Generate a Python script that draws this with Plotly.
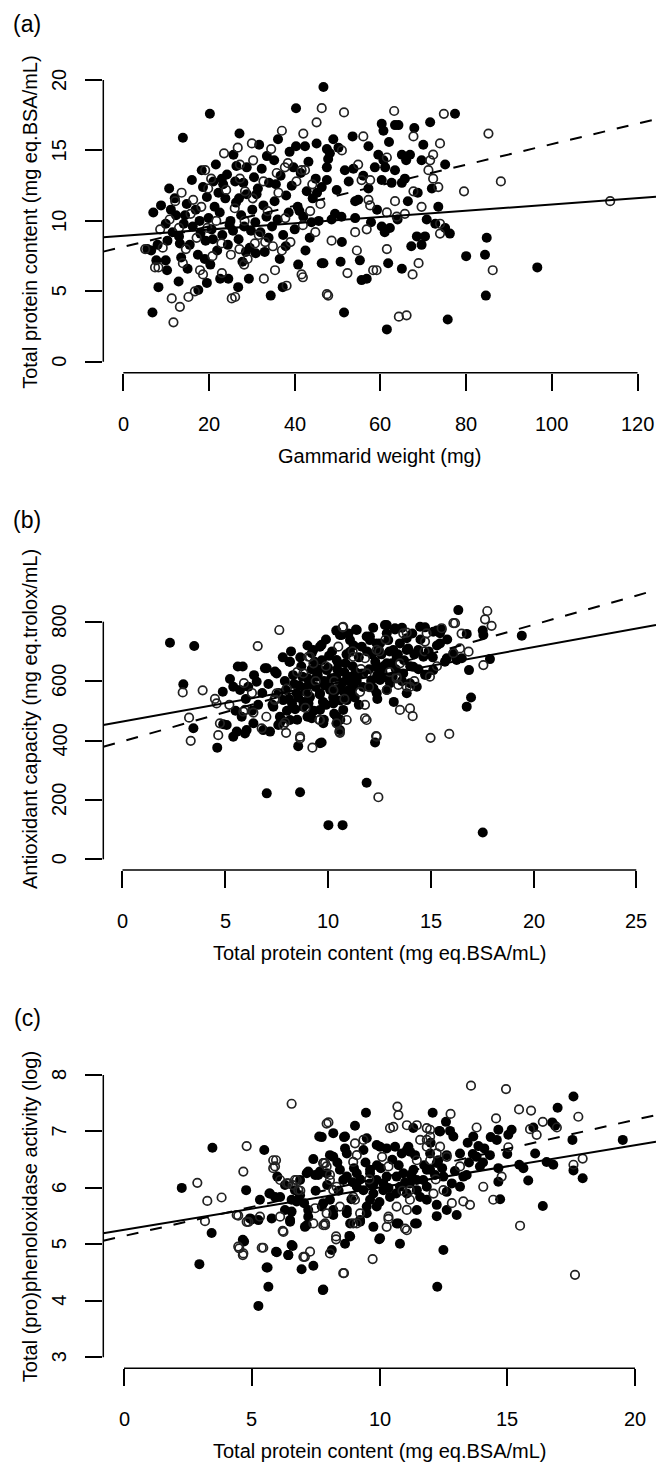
import plotly.graph_objects as go

# ---------------- data ----------------
# Panel (a): total protein vs gammarid weight
a_filled = [
(46.7,19.5),(20.2,17.6),(40.3,18.0),(13.9,15.9),(27.1,16.2),(33.5,14.6),(40.3,15.3),(42.4,15.3),(45.1,15.5),(25.7,14.7),
(21.6,14.0),(10.7,12.3),(8.8,11.1),(7.0,10.6),(9.9,9.8),(6.8,3.5),(8.2,5.3),(9.9,7.2),(10.2,6.5),(13.2,8.4),(12.9,5.7),
(17.5,5.1),(19.5,5.6),(22.6,5.9),(24.5,5.9),(26.8,5.3),(29.3,5.9),(30.9,7.7),(34.4,4.7),(37.2,5.3),(23.0,13.0),(23.3,12.6),
(26.1,12.8),(28.0,12.7),(28.8,13.8),(19.5,11.7),(40.8,6.9),(46.3,7.0),(47.8,14.4),(47.5,15.1),
(77.4,17.6),(71.6,17.0),(60.3,16.9),(60.7,16.4),(63.4,16.8),(64.2,16.8),(67.9,16.6),(49.0,15.8),(53.5,16.0),(57.2,15.3),
(65.0,14.7),(66.9,14.7),(66.0,14.3),(69.6,14.3),(75.1,14.0),(59.5,14.7),(60.7,14.3),(51.7,13.6),(53.7,13.7),(58.7,13.8),
(61.1,13.8),(63.4,13.6),(47.5,13.8),(48.2,14.8),(60.3,12.9),(62.6,12.7),(65.0,12.7),(65.7,13.0),(57.2,12.3),(72.0,12.3),
(54.1,11.4),(47.5,12.9),(49.8,12.2),(70.8,10.1),(49.4,10.5),(50.9,10.3),(48.6,10.1),(54.1,10.2),(60.3,9.6),(62.2,9.5),
(61.0,9.2),(68.5,8.9),(70.4,8.9),(69.6,8.3),(76.2,9.1),(75.1,9.5),(51.0,8.5),(84.8,8.8),(46.7,7.0),(50.7,7.1),(55.2,7.2),
(61.8,7.0),(65.0,6.6),(55.6,5.8),(56.8,5.9),(80.0,7.5),(84.4,7.6),(96.6,6.7),(84.6,4.7),(51.5,3.5),(61.5,2.3),(75.7,3.0),
(54.8,11.5),
(11.5,9.2),(12.3,10.4),(13.0,8.9),(14.1,9.8),(14.8,11.2),(15.5,8.3),(16.2,9.6),(16.9,10.8),(17.4,7.6),(18.0,9.1),
(18.6,12.4),(19.2,8.6),(19.9,10.2),(20.6,9.4),(21.3,11.0),(21.9,7.9),(22.5,10.6),(23.1,9.0),(23.8,11.6),(24.4,8.3),
(25.0,10.0),(25.6,9.3),(26.3,11.3),(26.9,8.7),(27.5,10.4),(28.2,9.6),(28.8,11.9),(29.5,8.1),(30.1,10.8),(30.8,9.9),
(31.4,12.3),(32.0,9.2),(32.7,11.1),(33.4,10.3),(34.0,12.7),(34.7,9.6),(35.3,11.4),(36.0,10.1),(36.7,13.2),(37.3,9.0),
(38.0,11.8),(38.6,10.6),(39.3,12.5),(40.0,9.4),(40.7,11.0),(41.4,13.4),(42.0,10.3),(42.8,12.1),(43.5,8.8),(44.2,11.6),
(44.9,13.0),(45.6,10.0),(46.3,12.4),(16.0,12.9),(18.3,13.6),(21.0,12.8),(24.2,13.3),(30.5,13.1),(35.2,14.3),(38.8,14.9),
(43.2,14.2),(13.5,7.4),(15.0,6.6),(20.3,6.9),(27.8,7.1),(33.0,7.8),(36.5,7.3),(42.5,7.9),(31.7,15.4),(36.1,15.8),
(10.3,8.6),(12.0,11.6),(8.0,8.3),(6.5,7.9),(7.7,7.2),(5.6,8.0),
(66.4,11.4),(68.7,12.0),(59.2,10.8),(57.8,9.9),(64.0,10.1),(72.8,9.8),(52.6,12.8),(56.0,13.2),(67.2,8.2),(73.5,11.0),
(70.0,15.4),(62.0,15.6),(50.2,15.2),
(17.8,10.0),(20.9,8.7),(22.2,12.0),(24.8,9.7),(27.0,11.6),(29.8,9.3),(31.1,11.9),(33.9,8.8),(35.6,12.6),(37.9,8.2),
(39.7,13.8),(41.1,10.7),(43.9,9.9),(45.2,12.0),(26.4,13.9),(19.0,7.3),(28.6,7.8),(14.4,10.4),(11.1,10.8),(32.3,13.7),
]
a_open = [
(37.0,16.4),(42.0,16.2),(30.0,15.5),(45.1,17.0),(46.3,18.0),(23.5,14.8),(19.1,13.6),(30.3,14.3),(27.2,14.0),(37.7,13.8),
(42.4,13.6),(41.6,13.6),(19.8,12.3),(13.6,12.0),(16.3,11.5),(12.1,11.4),(5.1,8.0),(8.2,6.7),(11.3,4.5),(13.2,3.9),
(11.7,2.8),(15.2,4.6),(17.9,6.5),(18.6,6.2),(25.3,4.5),(26.1,4.6),(28.2,6.9),(32.8,5.9),(35.4,6.5),(38.1,5.4),(41.6,6.2),
(41.9,6.0),(47.5,4.8),(30.7,8.4),(33.1,8.5),(37.0,7.9),(35.8,13.4),(32.7,12.8),(28.4,12.1),(27.2,13.0),
(51.5,17.7),(63.2,17.8),(74.8,17.6),(85.2,16.2),(56.0,16.0),(67.7,16.0),(73.9,15.5),(51.0,15.0),(72.3,14.7),(71.6,14.3),
(54.8,14.0),(71.2,13.6),(72.3,13.0),(73.5,12.4),(79.5,12.1),(88.1,12.8),(57.6,12.9),(55.6,12.9),(61.5,14.5),(67.7,12.1),
(57.2,11.5),(57.6,11.1),(63.4,11.4),(69.6,11.0),(113.6,11.4),(61.5,10.6),(63.8,10.3),(65.7,10.5),(73.9,9.8),(73.9,9.1),
(56.8,9.4),(54.1,9.2),(48.6,8.6),(54.5,7.9),(61.5,8.0),(68.9,7.0),(52.3,6.3),(58.3,6.5),(59.1,6.5),(67.5,6.2),(86.2,6.5),
(47.8,4.7),(64.3,3.2),(66.1,3.3),
(10.8,10.1),(13.0,9.5),(14.6,8.0),(15.7,10.5),(17.1,8.8),(18.2,11.0),(19.6,9.5),(20.8,7.5),(21.7,10.0),(22.9,8.4),
(24.0,12.2),(25.1,7.6),(26.0,10.9),(27.1,8.0),(28.3,10.0),(29.0,7.3),(30.2,11.6),(31.6,9.0),(33.7,10.7),(34.9,8.2),
(36.2,12.0),(37.8,10.2),(39.0,8.5),(40.4,12.8),(41.9,9.7),(43.6,10.7),(44.8,9.2),(46.0,11.2),(23.0,6.3),(16.7,5.0),
(13.9,7.0),(9.2,8.1),(8.6,9.4),(7.4,6.7),(20.5,13.0),(38.4,14.1),(44.1,12.6),(34.5,15.1),(26.7,15.2),
]
# Panel (b): antioxidant capacity vs total protein
b_filled = [
(2.31,729),(3.49,718),(2.96,589),(3.45,441),(4.61,376),(4.88,564),(5.23,607),(5.61,649),(5.85,649),(5.39,581),(5.72,570),
(6.12,581),(6.53,598),(7.02,643),(7.50,626),(5.07,452),(5.39,413),(5.56,430),(5.96,424),(6.04,435),(6.37,458),(6.85,435),
(7.18,430),(7.66,458),(7.75,469),(7.02,222),(8.64,226),(8.55,381),(9.69,393),(10.02,115),
(16.34,839),(19.43,753),(17.53,770),(17.56,755),(16.75,759),(16.86,637),(16.96,545),(16.75,514),(17.88,674),(15.29,770),
(15.53,774),(12.77,789),(13.26,774),(12.86,761),(11.36,774),(14.48,783),(14.72,781),(11.88,258),(10.71,115),(17.53,90),
(12.29,393),(14.80,621),(15.12,637),(13.83,559),(15.69,665),(16.26,671),(16.51,677),(10.58,755),(11.07,738),(11.64,716),
(12.04,738),(12.45,710),(12.93,738),(13.50,727),(13.83,744),(14.39,705),(14.64,682),
(15.45,761),(15.12,766),(9.61,716),(9.21,694),(8.12,665),(6.93,643),(7.42,632),(9.61,391),(10.42,458),(10.74,503),
(12.21,576),(12.86,570),(14.72,621),(15.78,677),(16.10,694),(15.45,727),(11.88,750),(12.53,727),(13.18,705),(9.21,475),
(7.6,560),(7.9,600),(8.1,540),(8.3,620),(8.4,505),(8.6,585),(8.7,650),(8.8,530),(8.9,565),(9.0,610),(9.1,545),(9.2,640),
(9.3,500),(9.4,580),(9.5,620),(9.6,555),(9.7,670),(9.8,600),(9.9,520),(10.0,645),(10.1,580),(10.2,700),(10.3,560),
(10.4,615),(10.5,660),(10.6,535),(10.7,595),(10.8,630),(10.9,690),(11.0,570),(11.1,615),(11.2,650),(11.3,545),(11.4,600),
(11.5,680),(11.6,625),(11.7,580),(11.9,700),(12.0,640),(12.1,600),(12.3,665),(12.4,620),(12.6,690),(12.7,650),(12.9,610),
(13.0,700),(13.1,660),(13.3,640),(13.4,690),(13.6,600),(13.7,670),(13.9,710),(14.0,650),(14.2,690),(14.4,640),(14.5,740),
(14.9,700),(15.1,680),(15.3,720),(15.8,740),(8.0,500),(8.5,470),(9.0,480),(9.8,470),(10.3,490),(7.3,520),(6.8,560),
(6.6,520),(6.3,500),(6.0,540),(5.8,480),(7.1,590),(8.2,700),(9.0,720),(9.9,740),(10.4,770),(11.0,760),(12.2,780),
(13.6,780),(14.1,760),(6.4,620),(5.5,500),(4.9,455),(7.8,680),(10.6,470),(11.5,520),(12.4,540),(13.2,530),
(8.15,665),(9.28,705),(9.69,722),(10.67,755),(11.40,772),(12.86,789),(13.26,778),(12.04,750),(12.37,727),(11.07,699),
(10.42,671),(9.94,637),(9.45,615),(8.96,581),(8.48,559),(7.82,536),(7.34,514),(8.80,514),(9.61,503),(10.26,525),
(10.91,536),(11.23,581),(11.72,626),(12.37,648),(12.86,660),(13.34,682),(13.83,705),(10.42,480),(9.77,458),(9.12,480),
(8.15,469),(7.66,480),(10.58,435),(7.58,452),(10.91,604),(10.58,581),(10.10,570),(9.61,559),(9.12,547),(12.04,581),
(12.53,604),(13.02,593),(12.37,559),(13.66,626),(14.15,648),(13.99,593),(14.32,581),
(8.35,590),(8.75,615),(9.15,595),(9.55,640),(9.85,585),(10.15,610),(10.45,640),(10.75,565),(11.05,600),(11.35,630),
(8.55,545),(9.05,525),(9.75,530),(10.25,545),(11.15,555),(8.65,680),(9.35,665),(10.05,685),(10.85,660),(11.25,720),
(7.95,570),(8.25,525),(12.65,630),(13.15,615),(12.15,690),
]
b_open = [
(7.63,772),(6.58,718),(2.93,562),(3.90,569),(3.24,477),(3.32,399),(4.58,525),(4.66,418),(4.74,458),(5.91,593),(5.88,497),
(6.37,494),(6.77,441),(7.91,460),(7.96,426),(8.64,407),(9.24,376),(9.58,469),(9.04,682),
(17.75,836),(17.64,808),(17.96,786),(16.18,795),(10.71,781),(13.83,763),(16.84,699),(16.42,710),(17.56,654),(14.96,615),
(11.80,520),(11.88,469),(13.50,503),(13.99,508),(14.12,482),(10.58,426),(12.37,413),(12.45,209),(14.99,409),(15.90,422),
(10.91,469),
(11.80,475),(12.34,415),(10.55,430),(5.96,503),(13.34,609),(13.42,587),(13.99,581),(14.80,761),(14.72,733),(16.10,795),
(15.53,778),(16.10,694),(11.80,677),(10.26,570),(9.29,660),(10.50,716),(10.74,783),
(7.4,540),(8.0,575),(8.5,630),(8.9,510),(9.4,600),(9.9,650),(10.3,600),(10.8,540),(11.2,700),(11.6,640),(12.0,580),
(12.5,700),(13.0,630),(13.5,660),(14.2,600),(14.7,700),(15.3,650),(16.5,760),(6.3,560),(5.2,520),(4.5,540),(7.0,480),
(9.0,560),(12.8,740),
(10.42,458),(9.61,469),(7.82,452),(8.64,413),(11.56,564),(11.88,626),(13.34,615),(13.83,581),(12.86,570),(11.23,682),
(12.37,705),(13.66,761),(9.12,682),(8.80,626),(7.42,536),(7.50,559),
]
# Panel (c): (pro)phenoloxidase activity vs total protein
c_filled = [
(2.26,6.00),(3.46,6.71),(2.95,4.65),(3.43,5.20),(5.49,6.67),(4.78,5.96),(4.65,5.08),(4.70,5.05),(5.26,3.91),(5.58,4.59),
(5.65,4.25),(5.95,4.87),(6.43,4.81),(6.60,4.97),(6.95,4.56),(7.41,4.62),(7.78,4.19),(7.64,6.91),(7.41,6.51),(5.00,5.44),
(5.26,5.43),(5.78,5.46),(5.32,5.79),(5.69,5.90),(5.91,5.84),(6.56,5.58),(6.50,5.43),(7.05,5.73),(7.08,5.31),(7.21,5.61),
(7.15,6.26),(7.48,6.23),(7.67,6.29),(6.89,5.87),(6.76,5.76),
(17.59,7.62),(16.97,7.42),(19.52,6.85),(17.55,6.85),(16.76,7.16),(16.87,7.10),(16.09,6.61),(15.47,6.41),(15.63,6.35),
(16.54,6.46),(16.80,6.41),(17.59,6.31),(17.95,6.17),(15.82,6.13),(16.39,5.68),(14.72,5.80),(14.65,6.11),(12.50,4.90),
(12.26,4.25),(10.80,5.01),(9.99,5.09),(7.80,4.20),(8.13,4.90),(8.65,5.01),(8.85,5.14),(11.46,5.37),(10.67,5.37),
(13.02,5.52),(12.63,5.61),(12.24,5.70),(9.47,7.33),(9.04,7.10),(12.08,7.33),(12.60,7.17),(8.19,6.97),(8.61,6.90),
(7.74,6.90),(12.34,7.01),(12.76,7.01),(12.89,6.91),(13.67,6.91),(14.65,7.03),(15.17,7.03),(15.04,6.94),(13.87,6.74),
(14.59,6.85),(16.02,7.07),(9.50,6.88),(14.32,6.58),(13.80,6.55),(13.93,6.38),(13.41,6.23),(13.15,6.02),(12.63,5.93),
(14.65,6.35),(10.87,6.61),(11.20,6.64),(10.02,6.73),(10.61,6.73),(11.13,6.73),(11.98,6.61),(12.30,6.49),(12.63,6.58),
(13.15,6.61),(11.85,6.32),(12.17,6.23),(12.83,6.08),(13.28,6.20),(9.37,6.67),(8.72,6.61),(8.19,6.55),(7.93,6.26),
(8.58,6.14),(9.11,6.02),(9.63,6.26),(10.28,6.20),(10.80,6.02),(10.41,5.84),(9.89,5.67),(9.50,5.55),(9.24,5.40),
(8.72,5.55),(8.19,5.61),(7.80,5.73),(11.07,5.90),(11.59,5.84),(11.85,6.02),(11.46,6.14),(11.33,6.32),(9.76,5.90),
(10.15,6.08),(9.63,6.08),
(8.4,5.95),(9.0,6.35),(9.9,6.40),(10.5,6.50),(11.0,6.10),(10.0,5.75),(8.9,5.80),(7.5,5.95),(12.0,6.80),(13.5,6.45),
(14.1,6.70),(15.0,6.60),(6.3,6.05),(6.0,6.20),
(8.65,6.91),(8.06,6.58),(8.65,6.70),(9.89,6.76),(10.28,6.70),(11.07,6.67),(11.39,6.58),(12.37,7.00),(11.32,7.06),
(7.21,6.29),(7.60,6.23),(6.89,6.14),(6.69,5.96),(5.71,5.90),(6.11,5.84),(8.45,6.32),(8.72,6.20),(9.11,6.26),(9.63,6.32),
(9.89,6.14),(9.37,5.96),(9.63,5.79),(10.15,5.96),(10.67,6.20),(10.93,6.26),(11.19,6.08),(11.46,5.96),(11.71,6.14),
(11.98,6.32),(12.24,6.44),(12.50,6.20),(4.93,5.46),(6.50,5.40),(7.15,5.34),(7.21,5.49),(7.74,5.67),(8.06,5.79),
(8.19,5.52),(8.72,5.61),(8.85,5.37),(9.24,5.43),(9.50,5.67),(9.76,5.31),(10.02,5.11),(10.74,5.37),(11.39,5.37),
(11.46,5.61),(11.85,5.79),(12.24,5.50),(6.56,4.99),(6.43,4.81),(5.98,4.86),(5.62,4.59),(8.82,5.15),(6.30,5.61),(6.56,5.79),
(8.95,6.10),(9.25,6.15),(9.75,6.05),(10.35,6.00),(10.65,5.90),(11.25,6.22),(11.75,6.40),(12.45,6.35),(12.95,6.30),
(13.65,6.60),(14.05,6.45),(14.35,6.90),(9.45,6.45),(10.05,6.35),(10.75,6.40),(8.35,6.45),(7.95,6.05),(13.45,6.80),
]
c_open = [
(6.56,7.49),(4.80,6.74),(4.67,6.29),(2.87,6.09),(3.26,5.77),(3.82,5.83),(3.17,5.41),(4.47,5.51),(4.87,5.40),(4.51,4.93),
(4.65,4.81),(5.45,4.94),(5.95,6.49),(5.91,6.38),(6.11,6.14),(6.37,6.08),(6.21,5.24),(7.02,4.78),(7.28,4.87),(7.80,6.44),
(7.87,5.37),(7.93,7.14),(6.76,6.14),(6.60,6.05),
(13.58,7.81),(14.95,7.75),(10.70,7.44),(10.74,7.29),(8.00,7.16),(10.41,7.06),(11.46,7.11),(11.85,7.06),(12.78,7.31),
(13.80,7.07),(14.56,7.23),(15.46,7.39),(15.93,7.37),(16.39,7.17),(17.78,7.26),(15.89,7.04),(16.15,6.94),(16.94,7.07),
(15.04,6.72),(17.95,6.52),(17.59,6.41),(14.78,6.20),(14.06,6.02),(14.45,5.79),(13.54,5.70),(13.28,5.76),(12.83,5.73),
(15.50,5.33),(17.65,4.46),(9.73,4.74),(8.58,4.49),(8.06,4.84),(8.30,5.09),(7.87,5.34),(11.07,5.25),(10.35,5.45),
(8.97,5.37),(9.24,5.55),(11.85,6.73),(12.37,6.73),(11.59,6.85),(11.98,6.91),(9.37,6.85),(9.04,6.79),(7.87,6.44),
(8.06,6.14),(8.32,6.02),(10.35,6.38),(11.46,6.49),(13.15,6.38),(8.97,5.84),(7.93,5.55),(8.45,5.67),(11.07,5.61),
(9.6,6.15),(10.9,5.95),(12.2,6.15),(10.1,6.55),(6.9,5.95),
(10.54,7.08),(11.07,7.11),(11.98,7.03),(11.85,6.85),(5.84,6.49),(5.84,6.35),(6.43,6.08),(6.82,5.96),(6.69,6.14),
(7.80,6.44),(4.41,5.52),(4.80,5.40),(5.32,5.49),(6.11,5.49),(6.24,5.22),(7.80,5.34),(7.41,5.37),(4.47,4.96),(4.67,4.84),
(5.39,4.94),(7.08,4.78),(8.30,5.14),(8.61,4.49),(9.04,5.79),(9.11,5.37),(10.35,5.49),(10.28,5.31),(11.0,5.28),
(9.11,6.58),(8.97,6.46),(7.93,6.38),(8.19,5.96),(8.06,6.23),(7.48,5.64),(12.24,6.61),(11.98,6.49),(12.63,6.55),
(12.50,5.96),(12.11,5.90),(11.19,5.96),(11.19,5.79),(10.67,5.67),
]

# regression lines: (intercept, slope)
a_solid = (8.94, 0.0223)
a_dashed = (8.16, 0.0729)
b_solid = (463.7, 12.53)
b_dashed = (397.3, 19.62)
c_solid = (5.257, 0.0750)
c_dashed = (5.148, 0.1029)

# tick values / labels
a_xticks = [0, 20, 40, 60, 80, 100, 120]
a_yticks = [0, 5, 10, 15, 20]
b_xticks = [0, 5, 10, 15, 20, 25]
b_yticks = [0, 200, 400, 600, 800]
c_xticks = [0, 5, 10, 15, 20]
c_yticks = [3, 4, 5, 6, 7, 8]

panel_tags = ["(a)", "(b)", "(c)"]
x_titles = ["Gammarid weight (mg)",
            "Total protein content (mg eq.BSA/mL)",
            "Total protein content (mg eq.BSA/mL)"]
y_titles = ["Total protein content (mg eq.BSA/mL)",
            "Antioxidant capacity (mg eq.trolox/mL)",
            "Total (pro)phenoloxidase activity (log)"]

# ---------------- layout geometry (pixels) ----------------
W, H = 656, 1466
AX_LEFT = 103.3
FONT = "Liberation Sans, Arial, sans-serif"
panels = [
    dict(fil=a_filled, opn=a_open, sol=a_solid, das=a_dashed, xt=a_xticks, yt=a_yticks,
         xr=(-4.67, 124.3), yr=(-0.773, 20.64), top=71.0, bot=372.7, tag_y=24),
    dict(fil=b_filled, opn=b_open, sol=b_solid, das=b_dashed, xt=b_xticks, yt=b_yticks,
         xr=(-0.934, 25.96), yr=(-36.0, 980.8), top=568.0, bot=870.0, tag_y=520),
    dict(fil=c_filled, opn=c_open, sol=c_solid, das=c_dashed, xt=c_xticks, yt=c_yticks,
         xr=(-0.81, 20.82), yr=(2.805, 8.159), top=1066.0, bot=1368.3, tag_y=1018),
]

def py2paper(py):
    return 1 - py / H

fig = go.Figure()
shapes, annos = [], []
layout = {}
for i, p in enumerate(panels):
    n = "" if i == 0 else str(i + 1)
    xa, ya = "x" + n, "y" + n
    xd = (AX_LEFT / W, 1.0)
    yd = (py2paper(p["bot"]), py2paper(p["top"]))
    common = dict(showgrid=False, zeroline=False, showline=False, ticks="outside", ticklen=17,
                  tickwidth=1.5, tickcolor="black", showticklabels=False, fixedrange=True)
    layout["xaxis" + n] = dict(domain=xd, range=list(p["xr"]), anchor=ya, tickvals=p["xt"], **common)
    layout["yaxis" + n] = dict(domain=yd, range=list(p["yr"]), anchor=xa, tickvals=p["yt"], **common)

    fx = [v[0] for v in p["fil"]]; fy = [v[1] for v in p["fil"]]
    ox = [v[0] for v in p["opn"]]; oy = [v[1] for v in p["opn"]]
    fig.add_trace(go.Scatter(x=fx, y=fy, mode="markers", xaxis=xa, yaxis=ya, showlegend=False,
                             marker=dict(symbol="circle", size=10, color="black", line=dict(width=0))))
    fig.add_trace(go.Scatter(x=ox, y=oy, mode="markers", xaxis=xa, yaxis=ya, showlegend=False,
                             marker=dict(symbol="circle-open", size=8.5, color="#222222", line=dict(width=1.7))))
    lx = [p["xr"][0], p["xr"][1]]
    for (b0, b1), dash in [(p["sol"], "solid"), (p["das"], "12px,12px")]:
        fig.add_trace(go.Scatter(x=lx, y=[b0 + b1 * v for v in lx], mode="lines", xaxis=xa, yaxis=ya,
                                 showlegend=False, line=dict(color="black", width=2, dash=dash)))

    # axis lines spanning first to last tick (R style)
    shapes.append(dict(type="line", xref=xa, yref=ya + " domain", x0=p["xt"][0], x1=p["xt"][-1],
                       y0=0, y1=0, line=dict(color="black", width=1.5)))
    shapes.append(dict(type="line", xref=xa + " domain", yref=ya, x0=0, x1=0,
                       y0=p["yt"][0], y1=p["yt"][-1], line=dict(color="black", width=1.5)))
    # tick labels
    for t in p["xt"]:
        annos.append(dict(x=t, xref=xa, y=py2paper(p["bot"] + 51), yref="paper", text=str(t),
                          showarrow=False, xanchor="center", yanchor="middle",
                          font=dict(family=FONT, size=20, color="black")))
    for t in p["yt"]:
        annos.append(dict(x=59 / W, xref="paper", y=t, yref=ya, text=str(t), textangle=-90,
                          showarrow=False, xanchor="center", yanchor="middle",
                          font=dict(family=FONT, size=20, color="black")))
    # axis titles
    annos.append(dict(x=(AX_LEFT + W) / 2 / W, xref="paper", y=py2paper(p["bot"] + 83), yref="paper",
                      text=x_titles[i], showarrow=False, xanchor="center", yanchor="middle",
                      font=dict(family=FONT, size=20, color="black")))
    annos.append(dict(x=30 / W, xref="paper", y=py2paper((p["top"] + p["bot"]) / 2), yref="paper",
                      text=y_titles[i], textangle=-90, showarrow=False, xanchor="center", yanchor="middle",
                      font=dict(family=FONT, size=20, color="black")))
    annos.append(dict(x=27 / W, xref="paper", y=py2paper(p["tag_y"]), yref="paper", text=panel_tags[i],
                      showarrow=False, xanchor="center", yanchor="middle",
                      font=dict(family=FONT, size=23, color="black")))

fig.update_layout(width=W, height=H, margin=dict(l=0, r=0, t=0, b=0), paper_bgcolor="white",
                  plot_bgcolor="white", shapes=shapes, annotations=annos, **layout)
fig.write_html("out.html", config={"displayModeBar": False},
               post_script="document.body.style.margin='0';document.body.style.overflow='hidden';")
